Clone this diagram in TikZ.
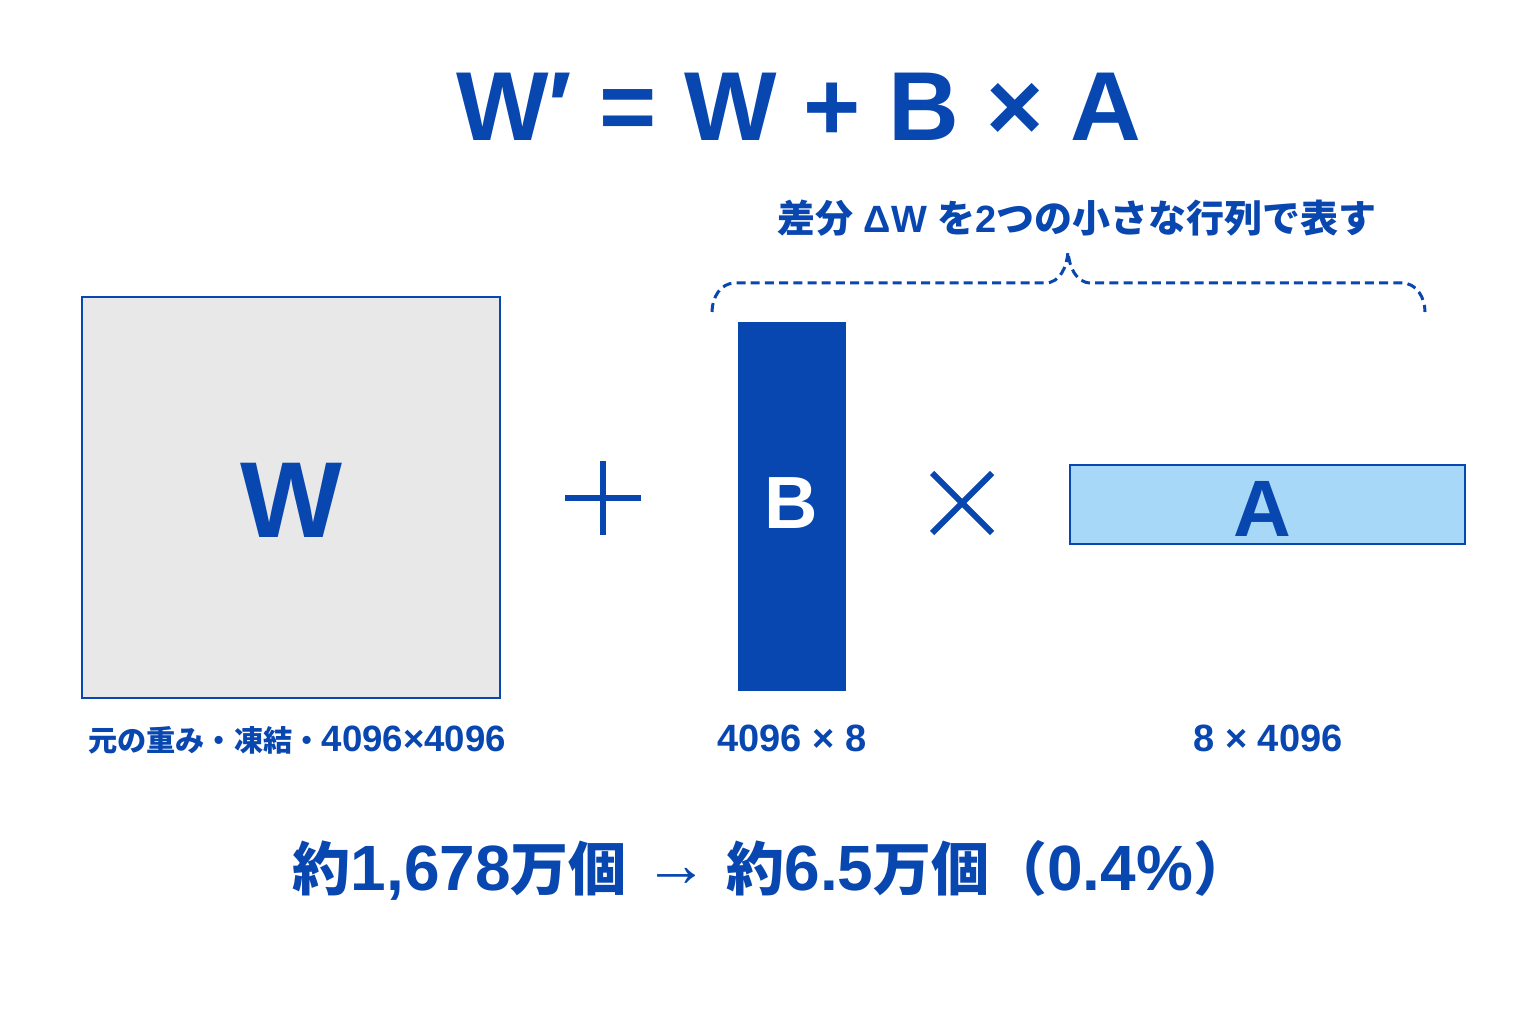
\documentclass[tikz,border=0pt]{standalone}
\usepackage{fontspec}
\setmainfont{Liberation Sans}
\newfontfamily\jp{Noto Sans CJK JP}
\usetikzlibrary{positioning,calc}
\definecolor{loraBlue}{HTML}{0846B0}
\definecolor{loraGray}{HTML}{E8E8E8}
\definecolor{loraSky}{HTML}{A8D8F8}
\newcommand{\jtxt}[1]{{\jp #1}}
\tikzset{
  matBox/.style = {draw=loraBlue, line width=1.3pt, inner sep=0pt},
  opLine/.style = {loraBlue, line width=3pt},
  dimLbl/.style = {loraBlue, font=\bfseries\fontsize{19}{20}\selectfont, inner sep=0pt},
  braceLine/.style = {loraBlue, line width=1.5pt, dash pattern=on 4.5pt off 2.6pt}
}
\begin{document}
\begin{tikzpicture}[x=0.5pt,y=0.5pt]
                    \fill[white] (0,0) rectangle (1536,1024);
                    \useasboundingbox (0,0) rectangle (1536,1024);
                    % formula
                    \node at (799,917) [loraBlue,font=\bfseries\fontsize{49}{50}\selectfont,inner sep=0pt] (nEq) {W′ = W + B × A};
                    \node at (1077,806) [loraBlue,font=\bfseries\fontsize{19}{20}\selectfont,inner sep=0pt] (nNote) {\jtxt{\fontsize{19}{20}\selectfont 差分} ΔW \jtxt{\fontsize{19}{20}\selectfont を}2\jtxt{\fontsize{19}{20}\selectfont つの小さな行列で表す}};
                    % matrices
                    \draw[matBox,fill=loraGray] (82,727) rectangle (500,326);
                    \node at (291,524) [loraBlue,font=\bfseries\fontsize{54}{55}\selectfont] (nW) {W};
                    \fill[loraBlue] (738,702) rectangle (846,333);
                    \node at (791,521) [white,font=\bfseries\fontsize{37}{38}\selectfont] (nB) {B};
                    \draw[matBox,fill=loraSky] (1070,559) rectangle (1465,480);
                    \node at (1262,515) [loraBlue,font=\bfseries\fontsize{40}{41}\selectfont] (nA) {A};
                    % operators
                    \coordinate (nPlus) at (603,526);
                    \coordinate (nTimes) at (962,521);
                    \draw[opLine] (nPlus) +(-38,0) -- +(38,0);
                    \draw[opLine] (nPlus) +(0,-37) -- +(0,37);
                    \draw[opLine] (nTimes) +(-30,30) -- +(30,-30);
                    \draw[opLine] (nTimes) +(-30,-30) -- +(30,30);
                    % brace
                    \coordinate (nBrL) at (712,712);
                    \coordinate (nBrTip) at (1068,772);
                    \coordinate (nBrR) at (1425,712);
                    \draw[braceLine] (nBrL) to[out=90,in=180] ($(nBrL)+(23,29)$) -- ($(nBrTip)+(-23,-31)$)
                                     to[out=0,in=-95] (nBrTip) to[out=-85,in=180] ($(nBrTip)+(23,-31)$)
                                     -- ($(nBrR)+(-23,29)$) to[out=0,in=90] (nBrR);
                    % labels
                    \node at (297,284) [dimLbl] (nWLbl) {\jtxt{\fontsize{14.6}{16}\selectfont 元の重み・凍結・}\fontsize{18.3}{20}\selectfont 4096×4096};
                    \node at (792,286) [dimLbl] (nBLbl) {4096 × 8};
                    \node at (1268,286) [dimLbl] (nALbl) {8 × 4096};
                    \node at (772,154) [loraBlue,font=\bfseries\fontsize{32}{34}\selectfont,inner sep=0pt] (nCount) {\jtxt{\fontsize{29}{31}\selectfont 約}1,678\jtxt{\fontsize{29}{31}\selectfont 万個} {\mdseries\raisebox{2pt}{→}} \jtxt{\fontsize{29}{31}\selectfont 約}6.5\jtxt{\fontsize{29}{31}\selectfont 万個（}0.4\%\jtxt{\fontsize{29}{31}\selectfont ）}};
                \end{tikzpicture}
\end{document}
